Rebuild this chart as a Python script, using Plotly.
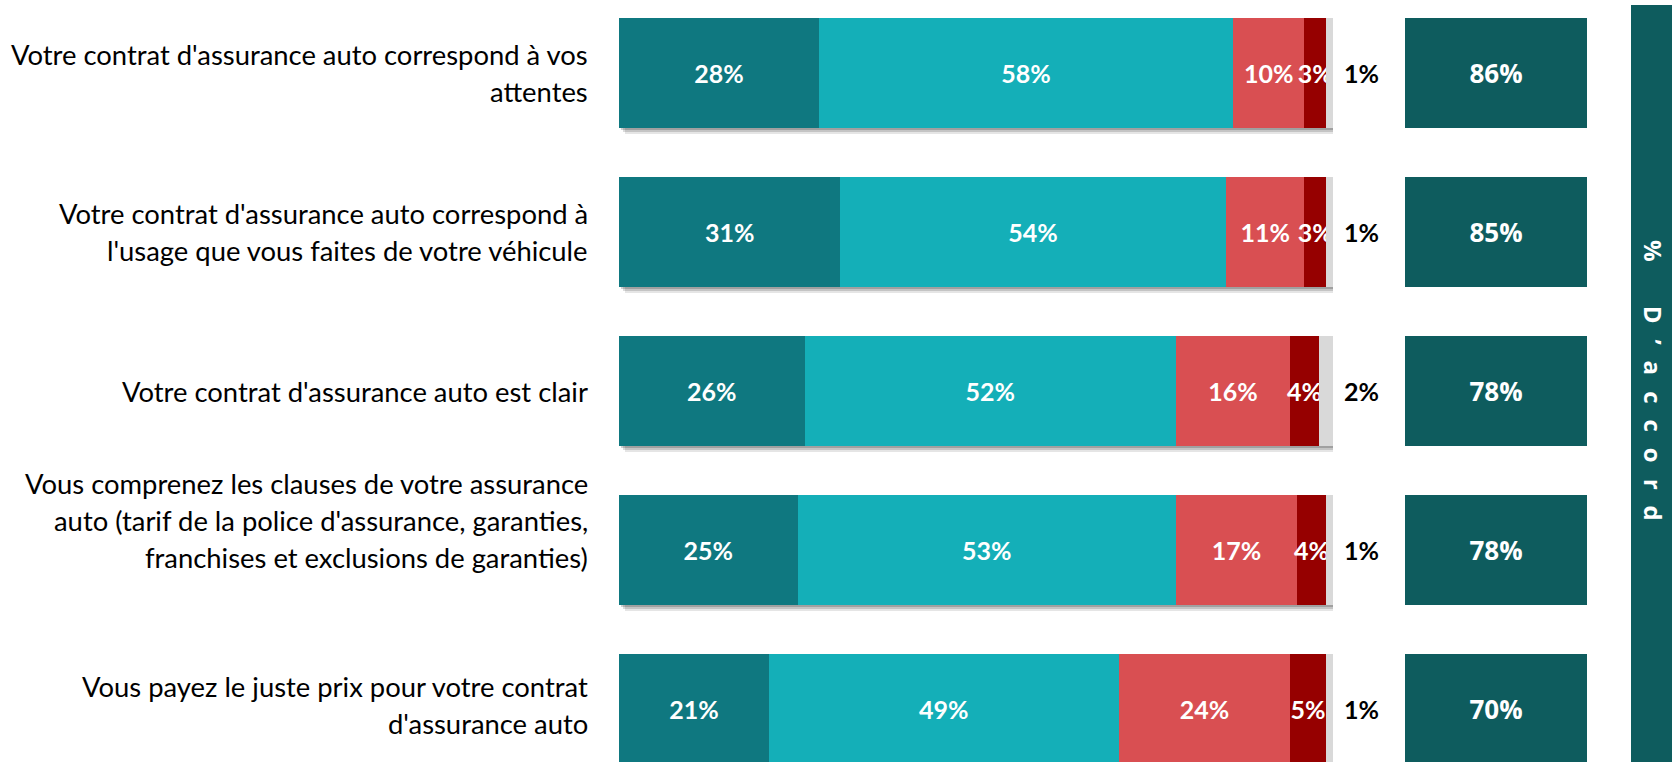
import plotly.graph_objects as go

# ---------------- data ----------------
categories = [
    "Votre contrat d'assurance auto correspond à vos<br>attentes",
    "Votre contrat d'assurance auto correspond à<br>l'usage que vous faites de votre véhicule",
    "Votre contrat d'assurance auto est clair",
    "Vous comprenez les clauses de votre assurance<br>auto (tarif de la police d'assurance, garanties,<br>franchises et exclusions de garanties)",
    "Vous payez le juste prix pour votre contrat<br>d'assurance auto",
]
tout_a_fait = [28, 31, 26, 25, 21]
plutot_oui = [58, 54, 52, 53, 49]
plutot_non = [10, 11, 16, 17, 24]
pas_du_tout = [3, 3, 4, 4, 5]
nsp = [1, 1, 2, 1, 1]
total_accord = [86, 85, 78, 78, 70]
side_title = "% D’accord"

# ---------------- styles ----------------
W, H = 1672, 762
col_dark_teal = "#0F7880"
col_teal = "#14AFB8"
col_red = "#D94F52"
col_dark_red = "#960000"
col_gray = "#D9D9D9"
col_box = "#0E5C5E"

bar_x0_px, bar_x1_px = 619, 1333
box_x0_px, box_x1_px = 1405, 1587
label_right_px = 590
row_pitch = 159.0
first_center_px = 73.0
bar_w = 110.0 / row_pitch
label_line_px = 37
label_shift_px = [0, 0, 0, 30, 4]

n = len(categories)
ys = list(range(n))
y_top = -first_center_px / row_pitch
y_bot = y_top + H / row_pitch

fig = go.Figure()

series = [
    (tout_a_fait, col_dark_teal),
    (plutot_oui, col_teal),
    (plutot_non, col_red),
    (pas_du_tout, col_dark_red),
]
for vals, col in series:
    fig.add_trace(go.Bar(
        x=vals, y=ys, orientation="h", width=bar_w,
        marker=dict(color=col, line=dict(width=0)),
        text=[f"{v}%" for v in vals], textposition="inside",
        insidetextanchor="middle", constraintext="none", textangle=0,
        textfont=dict(family="Lato", size=25, color="white", weight="bold"),
        cliponaxis=False, hoverinfo="skip", showlegend=False,
    ))
fig.add_trace(go.Bar(
    x=nsp, y=ys, orientation="h", width=bar_w,
    marker=dict(color=col_gray, line=dict(width=0)),
    hoverinfo="skip", showlegend=False,
))

# right boxes with totals
fig.add_trace(go.Bar(
    x=[1] * n, y=ys, orientation="h", width=bar_w, xaxis="x2",
    marker=dict(color=col_box, line=dict(width=0)),
    text=[f"{v}%" for v in total_accord], textposition="inside",
    insidetextanchor="middle", textangle=0, constraintext="none",
    textfont=dict(family="Open Sans", size=26, color="white", weight="bold"),
    hoverinfo="skip", showlegend=False,
))

# outside labels for "ne sait pas"
annotations = []
for i in ys:
    end = tout_a_fait[i] + plutot_oui[i] + plutot_non[i] + pas_du_tout[i] + nsp[i]
    annotations.append(dict(
        x=end, y=i, xref="x", yref="y", text=f"<b>{nsp[i]}%</b>",
        showarrow=False, xanchor="left", yanchor="middle", xshift=9,
        font=dict(family="Lato", size=25, color="black"),
    ))

# left category labels (one annotation per line)
for i, cat in enumerate(categories):
    lines = cat.split("<br>")
    m = len(lines)
    for j, line in enumerate(lines):
        off = (j - (m - 1) / 2) * label_line_px
        annotations.append(dict(
            x=label_right_px / W, y=i, xref="paper", yref="y", text=line,
            showarrow=False, xanchor="right", yanchor="middle",
            yshift=-off + label_shift_px[i],
            font=dict(family="Lato", size=27.4, color="black"),
        ))

# side title (letter-spaced, rotated)
spaced = "\u2002\u2006".join(side_title.replace(" ", "\u2002"))
annotations.append(dict(
    x=1654 / W, y=1 - 380 / H, xref="paper", yref="paper", text=f"<b>{spaced}</b>",
    showarrow=False, textangle=90, xanchor="center", yanchor="middle",
    font=dict(family="Open Sans", size=24, color="white"),
))

# shadows behind bars
px_x = 100.0 / (bar_x1_px - bar_x0_px)
px_y = 1.0 / row_pitch
shapes = []
for i in ys:
    end = tout_a_fait[i] + plutot_oui[i] + plutot_non[i] + pas_du_tout[i] + nsp[i]
    for k, op in [(6, 0.10), (4, 0.14), (2, 0.18)]:
        shapes.append(dict(
            type="rect", xref="x", yref="y", layer="below",
            x0=0 + k * px_x, x1=end + k * px_x,
            y0=i - bar_w / 2 + k * px_y, y1=i + bar_w / 2 + k * px_y,
            fillcolor=f"rgba(0,0,0,{op})", line=dict(width=0),
        ))
# side panel
shapes.append(dict(
    type="rect", xref="paper", yref="paper", layer="below",
    x0=1631 / W, x1=1.0, y0=0, y1=1 - 5 / H,
    fillcolor=col_box, line=dict(width=0),
))

fig.update_layout(
    width=W, height=H, barmode="stack",
    margin=dict(l=0, r=0, t=0, b=0),
    paper_bgcolor="white", plot_bgcolor="rgba(0,0,0,0)",
    xaxis=dict(domain=[bar_x0_px / W, bar_x1_px / W], range=[0, 100],
               visible=False, fixedrange=True),
    xaxis2=dict(domain=[box_x0_px / W, box_x1_px / W], range=[0, 1],
                visible=False, anchor="y", fixedrange=True),
    yaxis=dict(range=[y_bot, y_top], visible=False, fixedrange=True),
    annotations=annotations, shapes=shapes,
    uniformtext=dict(mode=False),
)

fig.write_html("out.html", post_script="document.body.style.margin='0';",
               config={"displayModeBar": False})
